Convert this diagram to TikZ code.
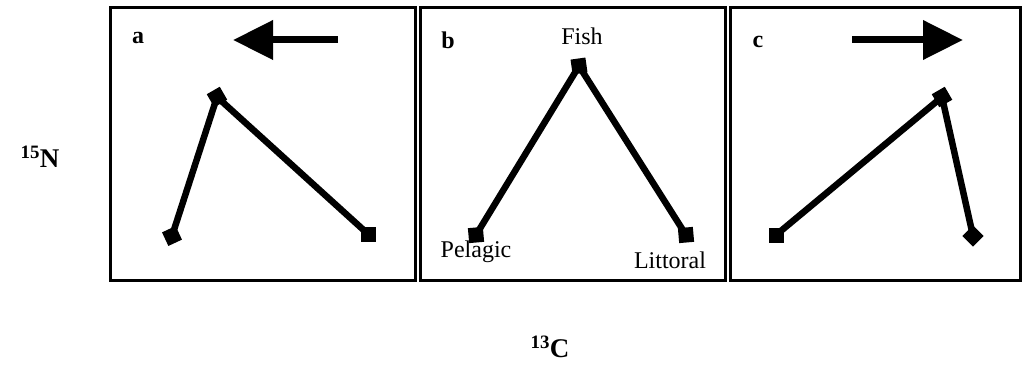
\documentclass[tikz,border=0pt]{standalone}
\usepackage{fontspec}
\setmainfont{Liberation Serif}
\usetikzlibrary{arrows.meta}
\begin{document}
\begin{tikzpicture}[x=1pt,y=-1pt,
  panel/.style={draw,line width=3pt},
  pt/.style={fill=black,minimum size=15pt,inner sep=0pt,rectangle},
  link/.style={line width=6.5pt},
  dirarrow/.style={line width=7pt,-{Triangle[length=40pt,width=38pt]}},
  plabel/.style={font=\fontsize{24}{26}\selectfont\bfseries},
  txt/.style={font=\fontsize{24}{26}\selectfont,inner sep=0pt},
  axis/.style={font=\fontsize{27}{29}\selectfont\bfseries}]
\useasboundingbox (0,0) rectangle (1024,366);
% panels
\node[panel,minimum width=305pt,minimum height=272pt,inner sep=0pt] (pa) at (262.5,144) {};
\node[panel,minimum width=305pt,minimum height=272pt,inner sep=0pt] (pb) at (572.5,144) {};
\node[panel,minimum width=290pt,minimum height=272pt,inner sep=0pt] (pc) at (875,144) {};
% panel a
\node[plabel] (la) at (138,38) {a};
\coordinate (aas) at (338,40);
\coordinate (aae) at (233,40);
\draw[dirarrow] (aas) -- (aae);
\node[pt,rotate=30] (a1) at (217,97) {};
\node[pt,rotate=25] (a2) at (172,236) {};
\node[pt] (a3) at (368,234) {};
\draw[link] (a2.center) -- (a1.center) -- (a3.center);
% panel b
\node[plabel] (lb) at (448,40) {b};
\node[txt] (fish) at (582,36) {Fish};
\node[pt,rotate=8] (b1) at (579,66) {};
\node[pt,rotate=5] (b2) at (476,235) {};
\node[pt,rotate=5] (b3) at (686,235) {};
\draw[link] (b2.center) -- (b1.center) -- (b3.center);
\node[txt] (pel) at (476,252) {Pelagic};
\node[txt] (lit) at (670,260) {Littoral};
% panel c
\node[plabel] (lc) at (758,42) {c};
\coordinate (cas) at (852,40);
\coordinate (cae) at (963,40);
\draw[dirarrow] (cas) -- (cae);
\node[pt,rotate=30] (c1) at (942,97) {};
\node[pt] (c2) at (776,235) {};
\node[pt,rotate=45] (c3) at (973,236) {};
\draw[link] (c2.center) -- (c1.center) -- (c3.center);
% axes
\node[axis] (yn) at (40,157) {\textsuperscript{15}N};
\node[axis] (xc) at (550,347) {\textsuperscript{13}C};
\end{tikzpicture}
\end{document}
